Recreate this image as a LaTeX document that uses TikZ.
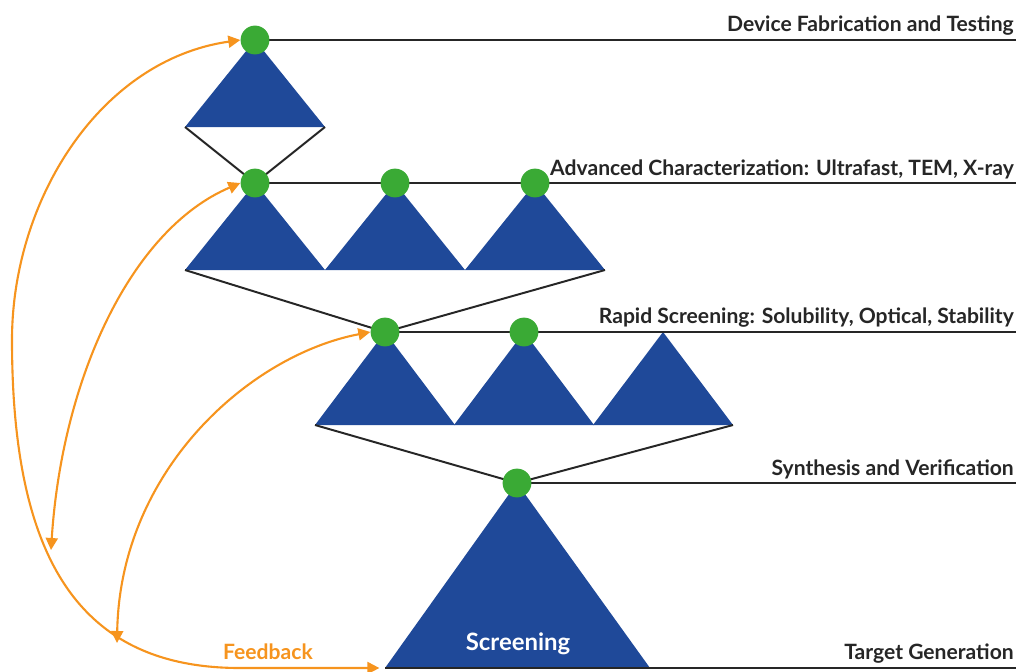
\documentclass[tikz,border=0pt]{standalone}
\usepackage{fontspec}
\setmainfont{Lato}
\usepackage{tikz}
\usetikzlibrary{arrows.meta}
\pgfdeclarelayer{edgelayer}
\pgfdeclarelayer{nodelayer}
\pgfsetlayers{edgelayer,nodelayer,main}
\definecolor{dotgreen}{RGB}{58,170,53}
\definecolor{triblue}{RGB}{31,73,153}
\definecolor{fborange}{RGB}{246,148,30}
\tikzstyle{stage}=[circle, fill=dotgreen, minimum size=0.72cm, inner sep=0pt]
\tikzstyle{pyramid}=[fill=triblue]
\tikzstyle{tier}=[-, draw=black!85, line width=1.8pt]
\tikzstyle{link}=[-, draw=black!85, line width=1.4pt]
\tikzstyle{feedback}=[{Triangle[length=0.3cm,width=0.3cm]}-{Triangle[length=0.3cm,width=0.3cm]}, draw=fborange, line width=1.5pt]
\tikzstyle{levellabel}=[font=\bfseries\fontsize{15}{17}\selectfont, text=black!85, inner sep=0pt, anchor=base east]

\begin{document}
\begin{tikzpicture}[x=0.025cm, y=-0.025cm]
            \useasboundingbox (0, 0) rectangle (1018, 671);
            \begin{pgfonlayer}{nodelayer}
                \node [style=stage] (D1) at (255, 40) {};

                \node [style=stage] (D21) at (255, 183) {};
                \node [style=stage] (D22) at (395, 183) {};
                \node [style=stage] (D23) at (535, 183) {};

                \node [style=stage] (D31) at (385, 332) {};
                \node [style=stage] (D32) at (524, 332) {};
                \coordinate (D33) at (663, 332);

                \node [style=stage] (D4) at (517, 483) {};
            \end{pgfonlayer}

            % corners and line ends
            \coordinate (a1l) at (185, 127);
            \coordinate (a1r) at (325, 127);
            \coordinate (a2l) at (185, 270);
            \coordinate (a2r) at (605, 270);
            \coordinate (a3l) at (315, 425);
            \coordinate (a3r) at (733, 425);
            \coordinate (B5L) at (385, 668);
            \coordinate (B5R) at (650, 668);
            \coordinate (E1) at (1016, 40);
            \coordinate (E2) at (1016, 183);
            \coordinate (E3) at (1016, 332);
            \coordinate (E4) at (1016, 483);
            \coordinate (E5) at (1016, 668);
            \coordinate (m2) at (51, 550);
            \coordinate (m3) at (117, 643);

            \begin{pgfonlayer}{edgelayer}
                \fill [style=pyramid] (D1.center) -- (a1r) -- (a1l) -- cycle;

                \fill [style=pyramid] (D21.center) -- ++(70, 87) -- ++(-140, 0) -- cycle;
                \fill [style=pyramid] (D22.center) -- ++(70, 87) -- ++(-140, 0) -- cycle;
                \fill [style=pyramid] (D23.center) -- ++(70, 87) -- ++(-140, 0) -- cycle;

                \fill [style=pyramid] (D31.center) -- ++(70, 93) -- ++(-140, 0) -- cycle;
                \fill [style=pyramid] (D32.center) -- ++(70, 93) -- ++(-140, 0) -- cycle;
                \fill [style=pyramid] (D33) -- ++(70, 93) -- ++(-140, 0) -- cycle;

                \fill [style=pyramid] (D4.center) -- (B5R) -- (B5L) -- cycle;

                \draw [style=tier] (D1.center) to (E1);
                \draw [style=tier] (D21.center) to (E2);
                \draw [style=tier] (D31.center) to (E3);
                \draw [style=tier] (D4.center) to (E4);
                \draw [style=tier] (B5L) to (E5);

                \draw [style=link] (a1l) to (D21.center);
                \draw [style=link] (a1r) to (D21.center);
                \draw [style=link] (a2l) to (D31.center);
                \draw [style=link] (a2r) to (D31.center);
                \draw [style=link] (a3l) to (D4.center);
                \draw [style=link] (a3r) to (D4.center);
            \end{pgfonlayer}

            % feedback loops
            \draw [style=feedback] (D1.west) .. controls (100, 60) and (12, 200) .. (12, 340)
                .. controls (12, 560) and (80, 668) .. (240, 668) -- ([xshift=-4]B5L);
            \draw [style=feedback] (D21.west) .. controls (130, 230) and (62, 380) .. (m2);
            \draw [style=feedback] (D31.west) .. controls (250, 355) and (120, 470) .. (m3);

            \node [style=levellabel] (L1) at (1014, 31) {Device Fabrication and Testing};
            \node [style=levellabel] (L2) at (1014, 175) {Advanced Characterization: Ultrafast, TEM, X-ray};
            \node [style=levellabel] (L3) at (1014, 323) {Rapid Screening: Solubility, Optical, Stability};
            \node [style=levellabel] (L4) at (1014, 475) {Synthesis and Verification};
            \node [style=levellabel] (L5) at (1014, 659) {Target Generation};
            \node [style=levellabel, anchor=base, text=fborange] (fb) at (268, 659) {Feedback};
            \node [style=levellabel, anchor=base, text=white, font=\bfseries\fontsize{17}{19}\selectfont] (scr) at (518, 650) {Screening};
\end{tikzpicture}
\end{document}
